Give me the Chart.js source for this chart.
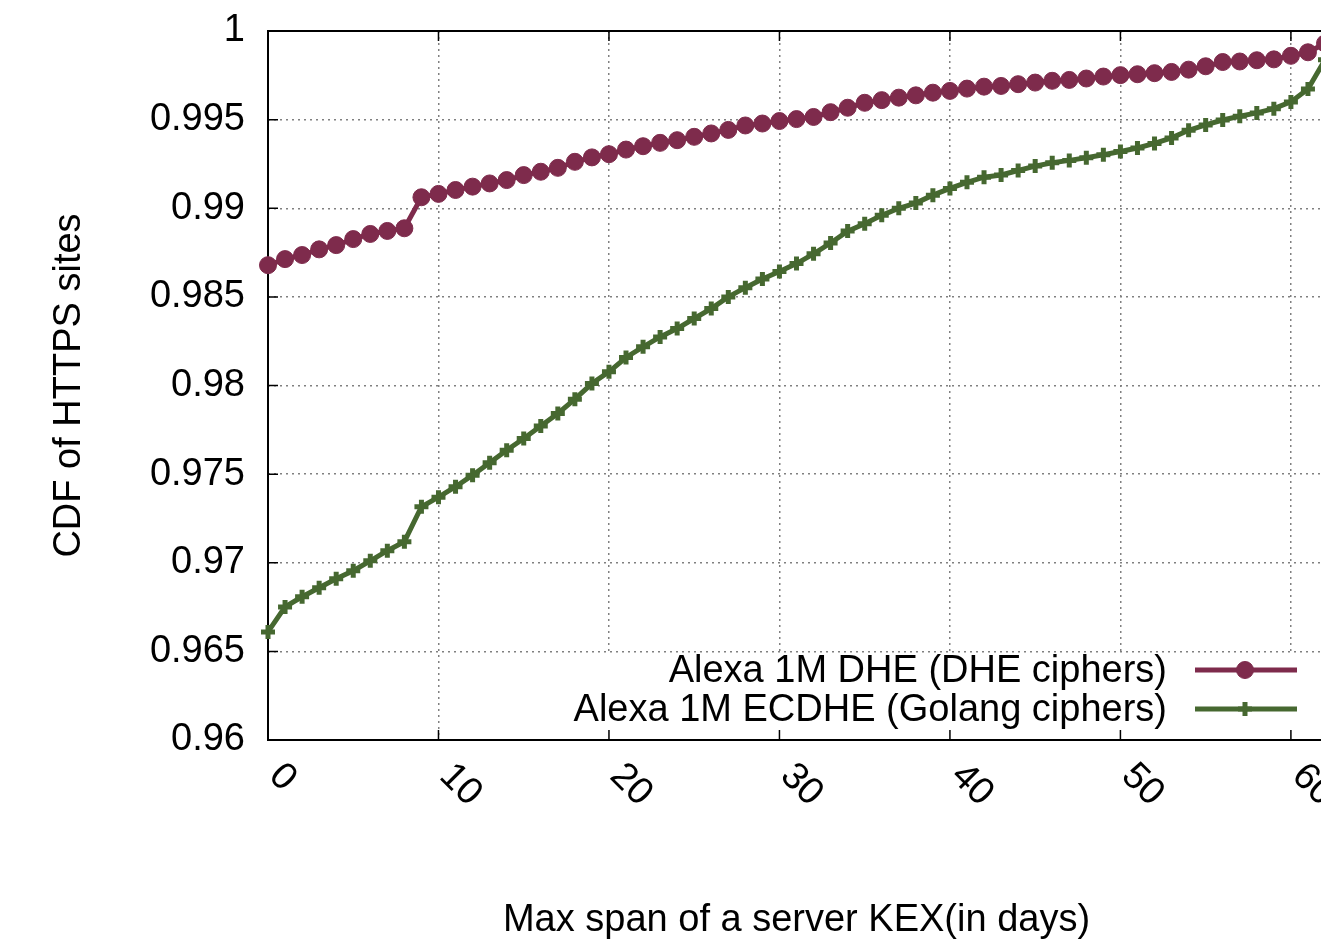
<!DOCTYPE html>
<html>
<head>
<meta charset="utf-8">
<script src="https://cdn.jsdelivr.net/npm/chart.js@4.4.0/dist/chart.umd.min.js"></script>
<style>
  html, body { margin: 0; padding: 0; background: #fff; overflow: hidden; }
  #wrap { width: 1340px; height: 942px; }
</style>
</head>
<body>
<div id="wrap"><canvas id="myChart"></canvas></div>
<script>
var days = [0, 1, 2, 3, 4, 5, 6, 7, 8, 9, 10, 11, 12, 13, 14, 15, 16, 17, 18, 19, 20,
  21, 22, 23, 24, 25, 26, 27, 28, 29, 30, 31, 32, 33, 34, 35, 36, 37, 38, 39, 40,
  41, 42, 43, 44, 45, 46, 47, 48, 49, 50, 51, 52, 53, 54, 55, 56, 57, 58, 59, 60, 61, 62];

var dheCdf = [0.98679, 0.98713, 0.98736, 0.98768, 0.98792, 0.98826, 0.98855, 0.98872, 0.98887, 0.99062,
  0.99081, 0.99103, 0.99122, 0.99140, 0.99159, 0.99187, 0.99206, 0.99228, 0.99262, 0.99287,
  0.99305, 0.99331, 0.99350, 0.99369, 0.99384, 0.99403, 0.99422, 0.99442, 0.99467, 0.99478,
  0.99492, 0.99503, 0.99515, 0.99542, 0.99567, 0.99595, 0.99610, 0.99624, 0.99637, 0.99652,
  0.99662, 0.99675, 0.99686, 0.99690, 0.99700, 0.99709, 0.99719, 0.99724, 0.99732, 0.99743,
  0.99751, 0.99756, 0.99762, 0.99769, 0.99782, 0.99801, 0.99825, 0.99828, 0.99835, 0.99840,
  0.99860, 0.99880, 0.99930];

var ecdheCdf = [0.96610, 0.96751, 0.96808, 0.96859, 0.96910, 0.96955, 0.97011, 0.97068, 0.97119, 0.97316,
  0.97370, 0.97429, 0.97494, 0.97564, 0.97635, 0.97701, 0.97771, 0.97842, 0.97923, 0.98011,
  0.98077, 0.98158, 0.98218, 0.98274, 0.98321, 0.98378, 0.98434, 0.98500, 0.98552, 0.98601,
  0.98643, 0.98688, 0.98743, 0.98804, 0.98871, 0.98913, 0.98960, 0.99000, 0.99029, 0.99074,
  0.99112, 0.99146, 0.99175, 0.99188, 0.99213, 0.99238, 0.99257, 0.99270, 0.99285, 0.99302,
  0.99320, 0.99340, 0.99366, 0.99397, 0.99440, 0.99470, 0.99498, 0.99519, 0.99538, 0.99562,
  0.99600, 0.99673, 0.99838];

var seriesNames = ['Alexa 1M DHE (DHE ciphers)', 'Alexa 1M ECDHE (Golang ciphers)'];
var xTicks = [0, 10, 20, 30, 40, 50, 60];
var yTicks = [0.96, 0.965, 0.97, 0.975, 0.98, 0.985, 0.99, 0.995, 1];

var FONT = '"Liberation Sans", Arial, Helvetica, sans-serif';
var maroon = '#7e2b4c';
var green = '#466830';

function pairs(ys) {
  return days.map(function (d, i) { return {x: d, y: ys[i]}; });
}

// gnuplot-ish extras: opaque key, inward ticks, full frame, slanted x labels, key
var gnuplotBits = {
  id: 'gnuplotBits',
  beforeDatasetsDraw: function (chart) {
    var ctx = chart.ctx, a = chart.chartArea, xs = chart.scales.x, ys = chart.scales.y;
    ctx.save();
    ctx.fillStyle = '#fff';
    ctx.fillRect(565, a.bottom - 86, a.right - 565, 84);

    ctx.strokeStyle = '#000';
    ctx.lineWidth = 1.5;
    ctx.beginPath();
    yTicks.forEach(function (v) {
      var py = ys.getPixelForValue(v);
      ctx.moveTo(a.left, py); ctx.lineTo(a.left + 10, py);
    });
    xTicks.forEach(function (v) {
      var px = xs.getPixelForValue(v);
      ctx.moveTo(px, a.bottom); ctx.lineTo(px, a.bottom - 10);
      ctx.moveTo(px, a.top); ctx.lineTo(px, a.top + 10);
    });
    ctx.stroke();

    ctx.lineWidth = 2;
    ctx.strokeRect(a.left, a.top, a.right - a.left, a.bottom - a.top);
    ctx.restore();
  },
  afterDatasetsDraw: function (chart) {
    var ctx = chart.ctx, a = chart.chartArea, xs = chart.scales.x;
    ctx.save();
    ctx.fillStyle = '#000';
    ctx.font = '38px ' + FONT;
    ctx.textAlign = 'left';
    ctx.textBaseline = 'middle';
    xTicks.forEach(function (v) {
      var px = xs.getPixelForValue(v);
      ctx.save();
      ctx.translate(px + 7, a.bottom + 30);
      ctx.rotate(Math.PI / 4);
      ctx.fillText(String(v), 0, 0);
      ctx.restore();
    });

    // key, text on the left of the sample
    chart.data.datasets.forEach(function (ds, i) {
      var ky = a.bottom - 70 + i * 39;
      ctx.textAlign = 'right';
      ctx.fillStyle = '#000';
      ctx.fillText(ds.label, a.right - 158, ky + 2);
      ctx.strokeStyle = ds.borderColor;
      ctx.lineWidth = ds.borderWidth;
      ctx.beginPath();
      ctx.moveTo(a.right - 130, ky); ctx.lineTo(a.right - 28, ky);
      ctx.stroke();
      ctx.fillStyle = ds.pointBackgroundColor;
      ctx.lineWidth = ds.pointBorderWidth;
      Chart.helpers.drawPoint(ctx, {
        pointStyle: ds.pointStyle, radius: ds.pointRadius, borderWidth: ds.pointBorderWidth, rotation: 0
      }, a.right - 80, ky);
    });
    ctx.restore();
  }
};

var ctx = document.getElementById('myChart').getContext('2d');
var myChart = new Chart(ctx, {
  type: 'line',
  data: {
    datasets: [{
      label: seriesNames[0],
      data: pairs(dheCdf),
      borderColor: maroon,
      backgroundColor: maroon,
      pointBackgroundColor: maroon,
      pointBorderColor: maroon,
      borderWidth: 5,
      pointStyle: 'circle',
      pointRadius: 8.5,
      pointBorderWidth: 1,
      tension: 0,
      clip: false
    }, {
      label: seriesNames[1],
      data: pairs(ecdheCdf),
      borderColor: green,
      backgroundColor: green,
      pointBackgroundColor: green,
      pointBorderColor: green,
      borderWidth: 5,
      pointStyle: 'cross',
      pointRadius: 7,
      pointBorderWidth: 5,
      tension: 0,
      clip: false
    }]
  },
  options: {
    responsive: true,
    maintainAspectRatio: false,
    animation: false,
    devicePixelRatio: 1,
    layout: { padding: { left: 0, top: 31, right: 15, bottom: 0 } },
    plugins: {
      legend: { display: false },
      tooltip: { enabled: false }
    },
    scales: {
      x: {
        type: 'linear',
        min: 0,
        max: 62,
        afterFit: function (s) { s.height = 202; s.paddingLeft = 0; s.paddingRight = 0; },
        afterBuildTicks: function (s) { s.ticks = xTicks.map(function (v) { return {value: v}; }); },
        ticks: { display: false },
        grid: { color: '#808080', lineWidth: 1.5, drawTicks: false },
        border: { display: false, dash: [2, 4] },
        title: {
          display: true,
          text: 'Max span of a server KEX(in days)',
          color: '#000',
          font: { family: FONT, size: 38, lineHeight: 1.15 },
          padding: { top: 0, bottom: 0 }
        }
      },
      y: {
        min: 0.96,
        max: 1,
        afterFit: function (s) { s.width = 268; s.paddingTop = 0; s.paddingBottom = 0; },
        afterBuildTicks: function (s) { s.ticks = yTicks.map(function (v) { return {value: v}; }); },
        ticks: {
          color: '#000',
          padding: 23,
          font: { family: FONT, size: 38 },
          callback: function (v) { return String(+v.toFixed(3)); }
        },
        grid: { color: '#808080', lineWidth: 1.5, drawTicks: false },
        border: { display: false, dash: [2, 4] },
        title: {
          display: true,
          text: 'CDF of HTTPS sites',
          color: '#000',
          font: { family: FONT, size: 38 },
          padding: { top: 47, bottom: 0 }
        }
      }
    }
  },
  plugins: [gnuplotBits]
});
</script>
</body>
</html>
